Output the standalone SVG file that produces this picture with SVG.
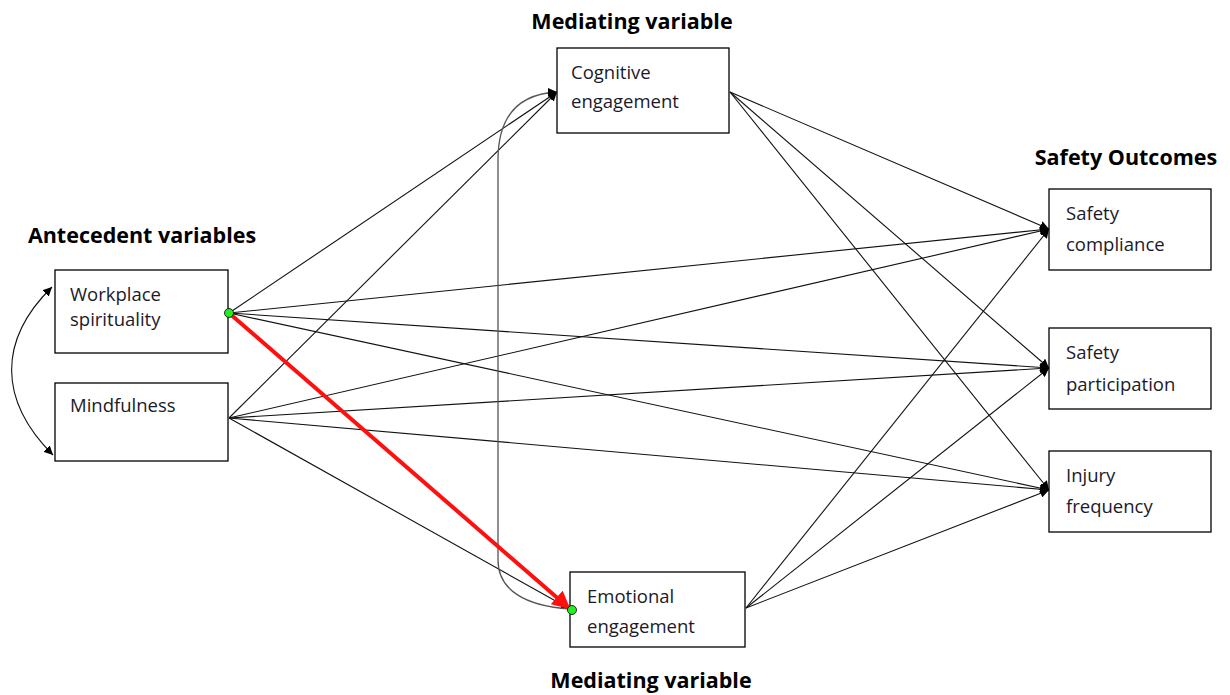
<svg xmlns="http://www.w3.org/2000/svg" width="1230" height="695" viewBox="0 0 1230 695">
<style>
.box{fill:#fff;stroke:#000;stroke-width:1.3}
.t{font-family:"Open Sans","Noto Sans",sans-serif;font-size:18.5px;fill:#1a1a2a}
.h{font-family:"Open Sans","Noto Sans",sans-serif;font-size:21.5px;font-weight:bold;fill:#000}
.e{stroke:#111;stroke-width:1.1;fill:none}
.ea{stroke:#111;stroke-width:1.1;fill:none;marker-end:url(#ah)}
.c{stroke:#555;stroke-width:1.3;fill:none}
</style>
<defs>
<marker id="ah" viewBox="0 0 10 10" refX="10" refY="5" markerWidth="9" markerHeight="9" markerUnits="userSpaceOnUse" orient="auto"><path d="M0,0 L10,5 L0,10 z" fill="#000"/></marker>
<marker id="ahs" viewBox="0 0 10 10" refX="10" refY="5" markerWidth="9" markerHeight="9" markerUnits="userSpaceOnUse" orient="auto-start-reverse"><path d="M0,0 L10,5 L0,10 z" fill="#000"/></marker>
<marker id="ahr" viewBox="0 0 10 10" refX="9" refY="5" markerWidth="18" markerHeight="18" markerUnits="userSpaceOnUse" orient="auto"><path d="M0,0 L10,5 L0,10 z" fill="#ff1010"/></marker>
</defs>
<g id="headings">
<text class="h" x="632" y="29" text-anchor="middle">Mediating variable</text>
<text class="h" x="1126" y="165" text-anchor="middle">Safety Outcomes</text>
<text class="h" x="142" y="243" text-anchor="middle">Antecedent variables</text>
<text class="h" x="651" y="688" text-anchor="middle">Mediating variable</text>
</g>
<g id="connectors">
<line class="ea" x1="229" y1="313" x2="557" y2="92"/>
<line class="ea" x1="229" y1="313" x2="1049" y2="229"/>
<line class="ea" x1="229" y1="313" x2="1049" y2="368"/>
<line class="ea" x1="229" y1="313" x2="1049" y2="490"/>
<line class="ea" x1="229" y1="418" x2="557" y2="92"/>
<line class="ea" x1="229" y1="418" x2="1049" y2="229"/>
<line class="ea" x1="229" y1="418" x2="1049" y2="368"/>
<line class="ea" x1="229" y1="418" x2="1049" y2="490"/>
<line class="ea" x1="229" y1="418" x2="570" y2="609"/>
<line class="ea" x1="730" y1="92" x2="1049" y2="229"/>
<line class="ea" x1="730" y1="92" x2="1049" y2="368"/>
<line class="ea" x1="730" y1="92" x2="1049" y2="490"/>
<line class="ea" x1="746" y1="608" x2="1049" y2="229"/>
<line class="ea" x1="746" y1="608" x2="1049" y2="368"/>
<line class="ea" x1="746" y1="608" x2="1049" y2="490"/>
<path class="e" d="M52,287 C-2,340 -2,400 53,455" marker-start="url(#ahs)" marker-end="url(#ah)"/>
<path class="c" d="M557,92 C520,94 498,115 498,160 L498,560 C498,590 525,606 570,609" marker-start="url(#ahs)"/>
<line x1="229" y1="313" x2="569" y2="608" stroke="#ff1010" stroke-width="4" marker-end="url(#ahr)"/>
</g>
<g id="n-workplace">
<rect class="box" x="55" y="270" width="173" height="83"/>
<text class="t" x="70" y="301">Workplace</text>
<text class="t" x="70" y="326">spirituality</text>
</g>
<g id="n-mindfulness">
<rect class="box" x="55" y="383" width="173" height="78"/>
<text class="t" x="70" y="412">Mindfulness</text>
</g>
<g id="n-cognitive">
<rect class="box" x="557" y="48" width="172" height="85"/>
<text class="t" x="571" y="79">Cognitive</text>
<text class="t" x="571" y="108">engagement</text>
</g>
<g id="n-emotional">
<rect class="box" x="570" y="572" width="175" height="75"/>
<text class="t" x="587" y="603">Emotional</text>
<text class="t" x="587" y="633">engagement</text>
</g>
<g id="n-compliance">
<rect class="box" x="1049" y="189" width="162" height="81"/>
<text class="t" x="1066" y="220">Safety</text>
<text class="t" x="1066" y="251">compliance</text>
</g>
<g id="n-participation">
<rect class="box" x="1049" y="328" width="162" height="81"/>
<text class="t" x="1066" y="359">Safety</text>
<text class="t" x="1066" y="391">participation</text>
</g>
<g id="n-injury">
<rect class="box" x="1049" y="451" width="162" height="81"/>
<text class="t" x="1066" y="482">Injury</text>
<text class="t" x="1066" y="513">frequency</text>
</g>
<g id="dots">
<circle cx="229" cy="313" r="4.5" fill="#22ee22" stroke="#000" stroke-width="0.8"/>
<circle cx="572" cy="610" r="4.5" fill="#22ee22" stroke="#000" stroke-width="0.8"/>
</g>
</svg>
